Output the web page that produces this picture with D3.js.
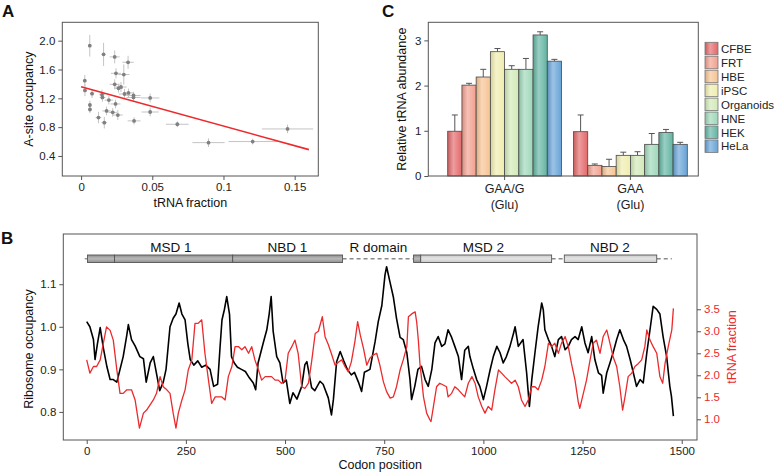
<!DOCTYPE html>
<html><head><meta charset="utf-8">
<script src="https://cdn.jsdelivr.net/npm/d3@7"></script>
<style>
body{margin:0;background:#fff}
text{font-family:"Liberation Sans",Arial,Helvetica,sans-serif}
</style></head>
<body><svg id="c" width="775" height="473"></svg>
<script>
// ---------- Panel A data ----------
const occX = [0.0061,0.0158,0.0236,0.033,0.0245,0.030,0.0026,0.0236,0.0263,0.028,0.0027,0.0077,0.0147,0.015,0.0195,0.0305,0.0333,0.0368,0.0368,0.0485,0.0242,0.0062,0.0062,0.0179,0.0222,0.0258,0.0122,0.0163,0.0372,0.0485,0.0676,0.0895,0.1205,0.145];
const occY = [1.93,1.81,1.775,1.70,1.547,1.53,1.445,1.394,1.34,1.357,1.31,1.265,1.25,1.212,1.175,1.26,1.275,1.24,1.212,1.205,1.122,1.107,1.045,1.025,1.005,0.968,0.933,0.862,0.887,1.01,0.84,0.585,0.60,0.775];
const occXErr = [0.001,0.001,0.0035,0.004,0.0035,0.004,0.001,0.0035,0.003,0.004,0.001,0.0015,0.002,0.002,0.003,0.004,0.004,0.005,0.005,0.0065,0.0035,0.001,0.001,0.003,0.003,0.0035,0.002,0.002,0.0045,0.006,0.008,0.0113,0.017,0.018];
const occYErr = [0.15,0.16,0.09,0.09,0.07,0.14,0.08,0.07,0.06,0.07,0.08,0.06,0.07,0.06,0.06,0.07,0.06,0.05,0.05,0.06,0.06,0.06,0.05,0.06,0.06,0.07,0.08,0.08,0.05,0.06,0.04,0.06,0.04,0.06];
const fitIntercept = 1.36, fitSlope = -5.45, fitRange = [0, 0.16];
const aXTicks = [0, 0.05, 0.1, 0.15];
const aYTicks = [0.4, 0.8, 1.2, 1.6, 2.0];

// ---------- Panel C data ----------
const groups = ["GAA/G", "GAA"];
const groupSub = ["(Glu)", "(Glu)"];
const cells = ["CFBE","FRT","HBE","iPSC","Organoids","HNE","HEK","HeLa"];
const cellColors = ["#e3686a","#f19f8f","#f5c392","#efedae","#d1e9b6","#9dd7b8","#62b4a2","#67a3d7"];
const abundGAAG = [0.99,2.01,2.19,2.75,2.36,2.36,3.12,2.54];
const errGAAG   = [0.36,0.04,0.17,0.07,0.08,0.24,0.07,0.04];
const abundGAA  = [0.98,0.236,0.21,0.457,0.457,0.70,0.96,0.70];
const errGAA    = [0.37,0.03,0.16,0.07,0.08,0.24,0.07,0.045];
const cYTicks = [0,1,2,3];

// ---------- Panel B data ----------
const codonBlack = [0,8,17,21,27,34,42,51,59,67,76,84,92,101,105,113,122,134,143,150,160,168,176,184,193,200,210,218,225,233,240,248,255,261,270,280,290,300,311,320,330,336,341,347,353,360,365,372,380,390,400,410,420,426,432,445,454,460,465,470,479,487,495,503,512,520,530,542,550,555,567,575,588,596,609,617,622,630,639,648,657,667,675,685,693,700,714,727,735,744,752,756,765,773,781,790,798,807,815,819,827,835,844,853,861,870,878,886,895,903,911,920,928,937,945,953,962,966,975,983,991,1000,1008,1017,1025,1034,1042,1050,1058,1067,1076,1080,1088,1100,1109,1116,1122,1130,1138,1147,1151,1155,1164,1172,1180,1189,1197,1206,1214,1222,1231,1239,1248,1256,1264,1273,1281,1290,1298,1302,1311,1319,1327,1336,1344,1353,1361,1370,1378,1386,1395,1403,1412,1420,1428,1437,1445,1453,1462,1470,1474,1479];
const occBlack = [1.012,1.0,0.97,0.923,0.96,0.998,0.95,0.906,0.876,0.876,0.87,0.9,0.93,0.98,1.005,0.97,0.955,0.93,0.925,0.87,0.915,0.93,0.89,0.85,0.87,0.9,1.0,1.02,1.03,1.056,1.03,1.016,0.96,0.923,0.91,0.92,0.905,0.91,0.9,0.86,0.865,0.95,1.016,1.04,1.071,1.03,0.93,0.915,0.905,0.9,0.895,0.88,0.868,0.852,0.915,0.962,0.993,1.03,1.071,0.99,0.93,0.915,0.868,0.875,0.82,0.845,0.83,0.86,0.911,0.918,0.857,0.85,0.872,0.865,0.833,0.793,0.83,0.918,0.942,0.92,0.9,0.887,0.893,0.87,0.848,0.893,0.9,0.965,1.012,1.05,1.122,1.141,1.103,1.07,1.02,0.975,0.97,0.939,0.876,0.829,0.86,0.9,0.907,0.876,0.86,0.9,0.962,0.977,0.954,0.96,0.993,0.975,0.954,0.93,0.876,0.945,0.954,0.93,0.9,0.876,0.86,0.829,0.86,0.899,0.93,0.954,0.939,0.915,0.93,0.954,0.985,1.0,0.954,0.97,0.892,0.813,0.876,0.939,1.0,1.056,1.04,0.993,0.97,0.954,0.93,0.97,0.977,0.946,0.954,0.97,0.977,0.97,1.0,0.962,0.939,0.977,0.923,0.892,0.886,0.844,0.892,0.915,0.939,0.97,0.993,0.97,0.954,0.923,0.892,0.86,0.876,0.868,0.939,0.993,1.048,1.041,1.03,0.977,0.93,0.86,0.837,0.79];
const codonRed = [0,8,17,25,34,42,50,59,67,76,84,92,101,113,122,133,143,151,168,176,185,193,202,210,218,225,231,240,248,256,265,273,281,290,298,307,315,324,332,340,349,357,366,374,383,391,399,408,416,424,433,441,450,458,466,475,483,491,500,508,517,525,533,542,550,559,567,576,584,594,601,609,618,626,635,643,651,659,667,676,683,690,698,706,714,722,731,739,748,756,765,773,781,790,798,807,811,820,828,832,836,840,849,857,865,868,874,882,890,899,907,911,920,928,937,945,953,962,971,979,987,996,1004,1012,1021,1029,1038,1046,1054,1063,1071,1080,1088,1096,1105,1113,1122,1130,1138,1147,1155,1164,1172,1180,1189,1197,1206,1214,1222,1231,1239,1243,1252,1260,1269,1277,1285,1294,1302,1311,1319,1327,1336,1344,1351,1357,1365,1374,1382,1391,1399,1407,1412,1420,1428,1437,1445,1452,1458,1466,1475,1479];
const fracRed = [2.35,2.05,2.2,2.2,2.35,2.73,3.1,3.02,2.8,2.12,1.59,1.59,1.67,1.67,1.44,0.8,1.14,1.21,1.44,1.59,1.97,1.74,1.67,1.59,1.14,0.8,1.14,1.44,1.67,2.12,2.35,3.18,3.18,3.26,2.5,1.89,1.36,1.51,1.51,1.51,1.44,1.97,2.2,2.65,2.65,2.58,2.65,2.5,2.65,2.35,2.12,1.89,1.97,1.97,1.97,1.89,1.89,1.82,1.89,2.5,2.65,2.8,2.5,1.74,1.7,1.82,2.31,2.95,3.0,3.33,2.87,2.7,2.46,2.23,2.3,2.35,2.2,2.08,2.3,2.76,3.22,2.9,2.6,2.23,2.39,2.46,2.5,2.23,1.85,1.63,1.48,1.51,1.74,2.12,2.35,2.65,3.33,3.4,3.44,3.2,2.8,2.27,1.51,1.14,0.99,0.95,1.29,1.74,1.82,1.78,1.74,1.51,1.59,1.74,1.67,1.59,1.51,1.82,1.97,1.82,1.51,1.29,1.14,1.29,1.21,1.67,2.12,2.05,1.97,1.89,1.82,1.89,1.74,1.44,1.29,1.44,1.74,1.74,1.67,1.89,2.2,2.73,2.65,2.73,2.5,2.73,2.88,2.65,2.27,1.89,1.4,1.25,1.59,1.89,2.35,2.73,2.8,2.5,2.88,3.03,2.73,2.42,2.2,1.74,1.21,1.51,1.97,2.05,2.2,2.27,2.35,2.65,3.03,2.8,2.65,2.5,1.97,1.82,2.27,2.65,3.03,3.52];
const domainNames = ["MSD 1","NBD 1","R domain","MSD 2","NBD 2"];
const domainLabelPos = [212,506,735,1000,1319];
const bXTicks = [0,250,500,750,1000,1250,1500];
const bYTicks = [0.8,0.9,1.0,1.1];
const bRTicks = [1.0,1.5,2.0,2.5,3.0,3.5];

// ---------- drawing ----------
const svg = d3.select("#c");
const FONT = '"Liberation Sans",Arial,Helvetica,sans-serif';
const AX = "#555";
const RED = "#ec2a2c";
const defs = svg.append("defs");

function styleAxis(g, fs){
  g.select(".domain").remove();
  g.selectAll(".tick line").attr("stroke", AX).attr("stroke-width", 1);
  g.selectAll(".tick text").attr("font-size", fs).attr("fill", "#222").attr("font-family", FONT);
}
function panelLabel(t, x, y){
  svg.append("text").attr("x", x).attr("y", y).attr("font-size", 17).attr("font-weight", "bold").attr("fill","#111").text(t);
}

// ===== Panel A =====
{
  const L=62.3, R=318.3, T=22.3, B=176;
  const x = d3.scaleLinear([-0.0132, 0.1666], [L, R]);
  const y = d3.scaleLinear([0.122, 2.255], [B, T]);
  const g = svg.append("g");
  const gx = g.append("g").attr("transform", `translate(0,${B})`)
    .call(d3.axisBottom(x).tickValues(aXTicks).tickSize(4).tickPadding(3).tickFormat(d => d===0?"0":String(d)));
  styleAxis(gx, 11.5);
  const gy = g.append("g").attr("transform", `translate(${L},0)`)
    .call(d3.axisLeft(y).tickValues(aYTicks).tickSize(4).tickPadding(3).tickFormat(d3.format(".1f")));
  styleAxis(gy, 11.5);
  const pts = occX.map((v,i)=>({x:v, y:occY[i], ex:occXErr[i], ey:occYErr[i]}));
  g.append("g").selectAll("line.h").data(pts).join("line")
    .attr("x1", d=>x(d.x-d.ex)).attr("x2", d=>x(d.x+d.ex)).attr("y1", d=>y(d.y)).attr("y2", d=>y(d.y))
    .attr("stroke","#c4c4c4").attr("stroke-width",1);
  g.append("g").selectAll("line.v").data(pts).join("line")
    .attr("x1", d=>x(d.x)).attr("x2", d=>x(d.x)).attr("y1", d=>y(d.y-d.ey)).attr("y2", d=>y(d.y+d.ey))
    .attr("stroke","#c4c4c4").attr("stroke-width",1);
  g.append("g").selectAll("circle").data(pts).join("circle")
    .attr("cx", d=>x(d.x)).attr("cy", d=>y(d.y)).attr("r", 1.9).attr("fill", "#808080");
  g.append("path").datum(fitRange.map(v=>[v, fitIntercept+fitSlope*v]))
    .attr("d", d3.line().x(d=>x(d[0])).y(d=>y(d[1]))).attr("stroke", RED).attr("stroke-width",1.6).attr("fill","none");
  g.append("rect").attr("x",L).attr("y",T).attr("width",R-L).attr("height",B-T).attr("fill","none").attr("stroke",AX).attr("stroke-width",1);
  g.append("text").attr("x",(L+R)/2).attr("y",207).attr("text-anchor","middle").attr("font-size",12.5).attr("fill","#111").text("tRNA fraction");
  g.append("text").attr("transform",`translate(33,${(T+B)/2}) rotate(-90)`).attr("text-anchor","middle").attr("font-size",12.5).attr("fill","#111").text("A-site occupancy");
  panelLabel("A", 2, 17);
}

// ===== Panel C =====
{
  const L=428.3, R=698.3, T=22.3, B=176;
  const y = d3.scaleLinear([0, 3.4], [B, T]);
  const x0 = d3.scaleBand(groups, [447.7, 687.3]).paddingInner(0.0955).paddingOuter(0);
  const x1 = d3.scaleBand(cells, [0, x0.bandwidth()]).padding(0);
  const g = svg.append("g");
  cellColors.forEach((c,i)=>{
    const gr = defs.append("linearGradient").attr("id","gc"+i).attr("x1","0").attr("x2","1").attr("y1","0").attr("y2","0");
    const base = d3.color(c);
    gr.append("stop").attr("offset","0%").attr("stop-color", base.darker(0.35).formatHex());
    gr.append("stop").attr("offset","40%").attr("stop-color", d3.interpolateRgb(c,"#ffffff")(0.35));
    gr.append("stop").attr("offset","100%").attr("stop-color", c);
  });
  const gy = g.append("g").attr("transform",`translate(${L},0)`)
    .call(d3.axisLeft(y).tickValues(cYTicks).tickSize(4).tickPadding(3).tickFormat(d3.format("d")));
  styleAxis(gy, 11.5);
  const gx = g.append("g").attr("transform",`translate(0,${B})`)
    .call(d3.axisBottom(x0).tickSize(4).tickPadding(4));
  styleAxis(gx, 12.5);
  gx.selectAll(".tick").append("text").attr("y", 33).attr("fill","#222").attr("font-size",12.5).attr("text-anchor","middle")
    .text((d,i)=>groupSub[i]);
  const vals = [abundGAAG, abundGAA], errs = [errGAAG, errGAA];
  groups.forEach((gname, gi)=>{
    const gg = g.append("g").attr("transform",`translate(${x0(gname)},0)`);
    const data = cells.map((c,i)=>({c, i, v:vals[gi][i], e:errs[gi][i]}));
    gg.selectAll("line.e").data(data).join("line")
      .attr("x1", d=>x1(d.c)+x1.bandwidth()/2).attr("x2", d=>x1(d.c)+x1.bandwidth()/2)
      .attr("y1", d=>y(d.v)).attr("y2", d=>y(d.v+d.e)).attr("stroke","#555").attr("stroke-width",1);
    gg.selectAll("line.cap").data(data).join("line")
      .attr("x1", d=>x1(d.c)+x1.bandwidth()/2-3).attr("x2", d=>x1(d.c)+x1.bandwidth()/2+3)
      .attr("y1", d=>y(d.v+d.e)).attr("y2", d=>y(d.v+d.e)).attr("stroke","#555").attr("stroke-width",1);
    gg.selectAll("rect").data(data).join("rect")
      .attr("x", d=>x1(d.c)).attr("width", x1.bandwidth()).attr("y", d=>y(d.v)).attr("height", d=>y(0)-y(d.v))
      .attr("fill", d=>`url(#gc${d.i})`).attr("stroke","#4a4a4a").attr("stroke-width",0.8);
  });
  g.append("rect").attr("x",L).attr("y",T).attr("width",R-L).attr("height",B-T).attr("fill","none").attr("stroke",AX).attr("stroke-width",1);
  g.append("text").attr("transform",`translate(406,${(T+B)/2}) rotate(-90)`).attr("text-anchor","middle").attr("font-size",12.5).attr("fill","#111").text("Relative tRNA abundance");
  const lg = g.append("g").attr("transform","translate(705,42.3)");
  const item = lg.selectAll("g").data(cells).join("g").attr("transform",(d,i)=>`translate(0,${i*13.95})`);
  item.append("rect").attr("width",13).attr("height",12.5).attr("fill",(d,i)=>`url(#gc${i})`).attr("stroke","#777").attr("stroke-width",0.8);
  item.append("text").attr("x",16).attr("y",10.5).attr("font-size",11.5).attr("fill","#222").text(d=>d);
  panelLabel("C", 382, 17);
}

// ===== Panel B =====
{
  const L=63.3, R=697, T=234, B=440;
  const x = d3.scaleLinear([-59, 1538.5], [L, R]);
  const y = d3.scaleLinear([0.734, 1.218], [B, T]);
  const yr = d3.scaleLinear([0.53, 5.21], [B, T]);
  const g = svg.append("g");
  const gx = g.append("g").attr("transform",`translate(0,${B})`)
    .call(d3.axisBottom(x).tickValues(bXTicks).tickSize(4).tickPadding(3).tickFormat(d3.format("d")));
  styleAxis(gx, 11.5);
  const gy = g.append("g").attr("transform",`translate(${L},0)`)
    .call(d3.axisLeft(y).tickValues(bYTicks).tickSize(4).tickPadding(3).tickFormat(d3.format(".1f")));
  styleAxis(gy, 11.5);
  const gr = g.append("g").attr("transform",`translate(${R},0)`)
    .call(d3.axisRight(yr).tickValues(bRTicks).tickSize(4).tickPadding(3).tickFormat(d3.format(".1f")));
  styleAxis(gr, 11.5);
  gr.selectAll(".tick text").attr("fill", RED);

  // domain architecture
  const by = 255, bh = 7.5, cy = by + bh/2;
  const dashes = [[-5,2],[645,824],[1172,1204],[1437,1475]];
  g.selectAll("line.dash").data(dashes).join("line")
    .attr("x1",d=>x(d[0])).attr("x2",d=>x(d[1])).attr("y1",cy).attr("y2",cy)
    .attr("stroke","#8a8a8a").attr("stroke-width",1.3).attr("stroke-dasharray","4,3");
  const gb = defs.append("linearGradient").attr("id","gbar").attr("x1","0").attr("x2","0").attr("y1","0").attr("y2","1");
  gb.append("stop").attr("offset","0%").attr("stop-color","#8f8f8f");
  gb.append("stop").attr("offset","50%").attr("stop-color","#b9b9b9");
  gb.append("stop").attr("offset","100%").attr("stop-color","#8f8f8f");
  const gl = defs.append("linearGradient").attr("id","gbarl").attr("x1","0").attr("x2","0").attr("y1","0").attr("y2","1");
  gl.append("stop").attr("offset","0%").attr("stop-color","#c8c8c8");
  gl.append("stop").attr("offset","50%").attr("stop-color","#e4e4e4");
  gl.append("stop").attr("offset","100%").attr("stop-color","#c8c8c8");
  const segs = [[2,70,"gbar"],[70,368,"gbar"],[368,645,"gbar"],[824,842,"gbar"],[842,1172,"gbarl"],[1204,1437,"gbarl"]];
  g.selectAll("rect.seg").data(segs).join("rect")
    .attr("x",d=>x(d[0])).attr("width",d=>x(d[1])-x(d[0])).attr("y",by).attr("height",bh)
    .attr("fill",d=>`url(#${d[2]})`).attr("stroke","#555").attr("stroke-width",0.9);
  g.selectAll("text.dom").data(domainNames).join("text")
    .attr("x",(d,i)=>x(domainLabelPos[i])).attr("y",251.5).attr("text-anchor","middle").attr("font-size",13.5).attr("fill","#111").text(d=>d);

  const lineB = d3.line().x(d=>x(d[0])).y(d=>y(d[1]));
  const lineR = d3.line().x(d=>x(d[0])).y(d=>yr(d[1]));
  g.append("path").datum(codonBlack.map((c,i)=>[c, occBlack[i]])).attr("d",lineB)
    .attr("fill","none").attr("stroke","#000").attr("stroke-width",1.6).attr("stroke-linejoin","round");
  g.append("path").datum(codonRed.map((c,i)=>[c, fracRed[i]])).attr("d",lineR)
    .attr("fill","none").attr("stroke",RED).attr("stroke-width",1.3).attr("stroke-linejoin","round");

  g.append("rect").attr("x",L).attr("y",T).attr("width",R-L).attr("height",B-T).attr("fill","none").attr("stroke",AX).attr("stroke-width",1);
  g.append("text").attr("x",(L+R)/2).attr("y",469).attr("text-anchor","middle").attr("font-size",12.5).attr("fill","#111").text("Codon position");
  g.append("text").attr("transform",`translate(33,${(T+B)/2+12}) rotate(-90)`).attr("text-anchor","middle").attr("font-size",12.5).attr("fill","#111").text("Ribosome occupancy");
  g.append("text").attr("transform",`translate(736,${(T+B)/2+10}) rotate(-90)`).attr("text-anchor","middle").attr("font-size",12.5).attr("fill",RED).text("tRNA fraction");
  panelLabel("B", 1, 244);
}
</script></body></html>
